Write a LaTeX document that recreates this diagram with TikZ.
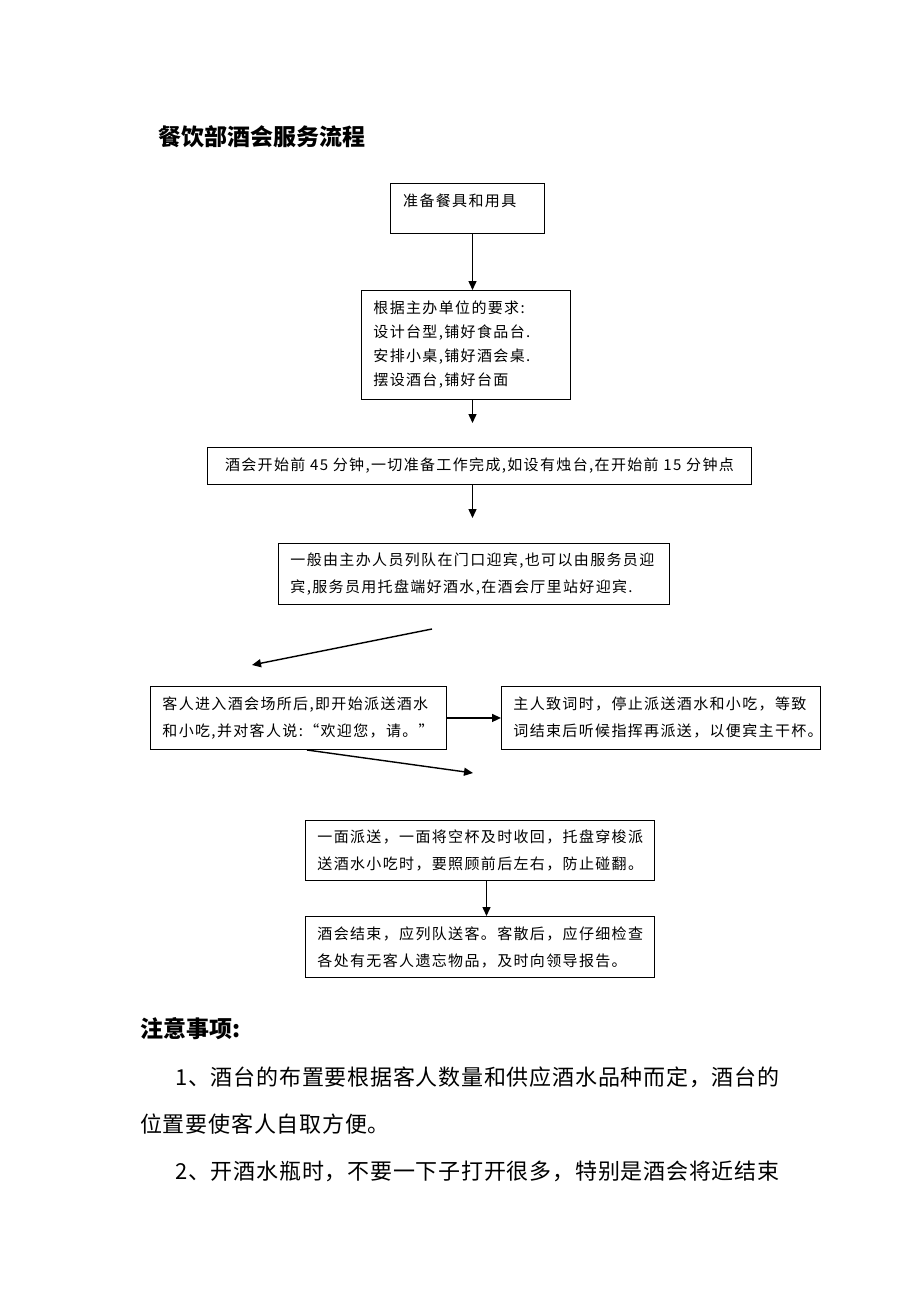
\documentclass[tikz,border=0pt]{standalone}
\usepackage{fontspec}
\setmainfont{Noto Sans CJK SC}
\usetikzlibrary{arrows.meta,calc}
\newcommand{\boxfont}[1]{\fontsize{15}{#1}\selectfont\addfontfeature{LetterSpace=9}}
\begin{document}
\begin{tikzpicture}[x=1pt,y=-1pt,
  box/.style={draw, line width=0.9pt, inner xsep=12pt, inner ysep=0pt, align=left, anchor=north west, font=\boxfont{27}},
  arr/.style={line width=1.4pt, -{Triangle[length=9pt,width=8pt]}},
  body/.style={anchor=base west, inner sep=0pt, font=\fontsize{22}{22}\selectfont\addfontfeature{LetterSpace=3.5}}]
\useasboundingbox (0,0) rectangle (920,1302);
\node[anchor=base west, inner sep=0pt, font=\fontsize{23}{23}\selectfont\bfseries] (title) at (158,145) {餐饮部酒会服务流程};
% boxes
\node[box, minimum width=154pt, minimum height=50pt] (b1) at (390,183) {};
\node[anchor=base west, inner sep=0pt, font=\boxfont{27}] (t1) at (403,206) {准备餐具和用具};
\node[box, text width=185pt, minimum height=109pt, font=\boxfont{24}] (b2) at (361,290) {根据主办单位的要求:\\设计台型,铺好食品台.\\安排小桌,铺好酒会桌.\\摆设酒台,铺好台面};
\node[box, align=center, minimum width=544pt, minimum height=37pt] (b3) at (207,447) {酒会开始前 45 分钟,一切准备工作完成,如设有烛台,在开始前 15 分钟点};
\node[box, text width=367pt, minimum height=61pt] (b4) at (278,543) {一般由主办人员列队在门口迎宾,也可以由服务员迎\\宾,服务员用托盘端好酒水,在酒会厅里站好迎宾.};
\node[box, text width=272pt, minimum height=63pt] (b5) at (150,686) {客人进入酒会场所后,即开始派送酒水\\和小吃,并对客人说:“欢迎您，请。”};
\node[box, text width=295pt, minimum height=63pt] (b6) at (501,686) {主人致词时，停止派送酒水和小吃，等致\\词结束后听候指挥再派送，以便宾主干杯。};
\node[box, text width=325pt, minimum height=60pt] (b7) at (305,820) {一面派送，一面将空杯及时收回，托盘穿梭派\\送酒水小吃时，要照顾前后左右，防止碰翻。};
\node[box, text width=325pt, minimum height=61pt] (b8) at (305,916) {酒会结束，应列队送客。客散后，应仔细检查\\各处有无客人遗忘物品，及时向领导报告。};
% free ends
\coordinate (e23) at (472.5,423);
\coordinate (e34) at (472.5,518);
\coordinate (d1s) at (432,629);
\coordinate (d1e) at (252,665);
\coordinate (d2s) at (307,750);
\coordinate (d2e) at (473,773);
% connectors
\draw[arr] (b1.south -| 472.5,0) -- (b2.north -| 472.5,0);
\draw[arr] (b2.south -| e23) -- (e23);
\draw[arr] (b3.south -| e34) -- (e34);
\draw[arr] (d1s) -- (d1e);
\draw[arr] (b5.east) -- (b6.west);
\draw[arr] (d2s) -- (d2e);
\draw[arr] (b7.south -| 486.5,0) -- (b8.north -| 486.5,0);
% notes
\node[anchor=base west, inner sep=0pt, font=\fontsize{23}{23}\selectfont\bfseries] (n0) at (140,1037) {注意事项:};
\node[body] (n1) at (175,1085) {1、酒台的布置要根据客人数量和供应酒水品种而定，酒台的};
\node[body] (n2) at (140,1132) {位置要使客人自取方便。};
\node[body] (n3) at (175,1179) {2、开酒水瓶时，不要一下子打开很多，特别是酒会将近结束};
\end{tikzpicture}
\end{document}
